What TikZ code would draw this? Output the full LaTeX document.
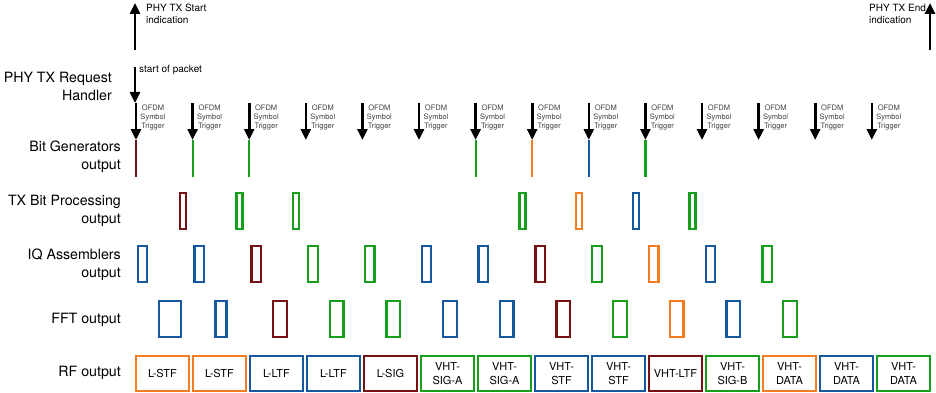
\documentclass[tikz,border=0pt]{standalone}
\usepackage{fontspec}
\setmainfont{TeX Gyre Heros}
\usetikzlibrary{positioning, arrows.meta}
\definecolor{sigorange}{RGB}{245,125,32}
\definecolor{siggreen}{RGB}{22,158,28}
\definecolor{sigblue}{RGB}{22,88,160}
\definecolor{sigred}{RGB}{118,18,22}

\begin{document}
\begin{tikzpicture}[x=1pt, y=-1pt,
  rowlabel/.style={anchor=east, align=right, inner sep=0pt, font=\fontsize{14.2}{18}\selectfont},
  trig/.style={-{Triangle[width=10pt,length=11pt]}, line width=2.6pt},
  triglabel/.style={anchor=north, align=center, inner sep=0pt, font=\fontsize{7.5}{9}\selectfont, text=black!75},
  note/.style={anchor=west, align=left, inner sep=0pt, font=\fontsize{10}{12}\selectfont},
  bitline/.style={line width=2.2pt},
  slot/.style={draw, line width=2.3pt, inner sep=0pt, minimum height=36pt},
  rfbox/.style={slot, minimum width=53pt, minimum height=35pt, align=center, font=\fontsize{11}{14.5}\selectfont}]

\useasboundingbox (0,0) rectangle (936,393);

% row labels
\node[rowlabel] (handler) at (112,86) {PHY TX Request\\Handler};
\node[rowlabel] (bitgen) at (121,157) {Bit Generators\\output};
\node[rowlabel] (txbit) at (121,211) {TX Bit Processing\\output};
\node[rowlabel] (iqasm) at (121,265) {IQ Assemblers\\output};
\node[rowlabel] (fft) at (121,320) {FFT output};
\node[rowlabel] (rf) at (121,373) {RF output};

% start and end of the transmission
\coordinate (starttail) at (135,50);
\coordinate (starthead) at (135,3);
\draw[trig] (starttail) -- (starthead);
\node[note] (startnote) at (146,14) {PHY TX Start\\indication};
\coordinate (endtail) at (930,50);
\coordinate (endhead) at (930,3);
\draw[trig] (endtail) -- (endhead);
\node[note] (endnote) at (869,14) {PHY TX End\\indication};

\coordinate (pkttail) at (135,67);
\coordinate (pkthead) at (135,103);
\draw[trig] (pkttail) -- (pkthead);
\node[note] (pktnote) at (139,70) {start of packet};

% symbol triggers
\foreach \i in {0,...,13} {
  \coordinate (trigtop\i) at (136+56.6*\i,103);
  \coordinate (trigbot\i) at (136+56.6*\i,140);
  \draw[trig] (trigtop\i) -- (trigbot\i);
  \node[triglabel] (trignote\i) at (153+56.6*\i,105) {OFDM\\Symbol\\Trigger};
}

% bit generators
\foreach \i/\c in {0/sigred,1/siggreen,2/siggreen,6/siggreen,7/sigorange,8/sigblue,9/siggreen} {
  \coordinate (bgtop\i) at (136+56.6*\i,140);
  \coordinate (bgbot\i) at (136+56.6*\i,177);
  \draw[bitline, \c] (bgtop\i) -- (bgbot\i);
}

% TX bit processing
\foreach \i/\c in {0/sigred,1/siggreen,2/siggreen,6/siggreen,7/sigorange,8/sigblue,9/siggreen}
  \node[slot, draw=\c, minimum width=6pt] (txb\i) at (183+56.6*\i,211) {};

% IQ assemblers
\foreach \i/\c in {0/sigblue,1/sigblue,2/sigred,3/siggreen,4/siggreen,5/sigblue,6/sigblue,7/sigred,8/siggreen,9/sigorange,10/sigblue,11/siggreen}
  \node[slot, draw=\c, minimum width=9.5pt] (iq\i) at (142.5+56.8*\i,264) {};

% FFT
\node[slot, draw=sigblue, minimum width=21.5pt] (fft0) at (170,319) {};
\node[slot, draw=sigblue, minimum width=11pt] (fft1) at (221,319) {};
\foreach \i/\c in {2/sigred,3/siggreen,4/siggreen,5/sigblue,6/sigblue,7/sigred,8/siggreen,9/sigorange,10/sigblue,11/siggreen}
  \node[slot, draw=\c, minimum width=13.7pt] (fft\i) at (280+56.67*\i-113.34,319) {};

% RF output
\foreach \i/\c/\t in {0/sigorange/L-STF, 1/sigorange/L-STF, 2/sigblue/L-LTF, 3/sigblue/L-LTF,
    4/sigred/L-SIG, 5/siggreen/{VHT-\\SIG-A}, 6/siggreen/{VHT-\\SIG-A}, 7/sigblue/{VHT-\\STF},
    8/sigblue/{VHT-\\STF}, 9/sigred/VHT-LTF, 10/siggreen/{VHT-\\SIG-B}, 11/sigorange/{VHT-\\DATA},
    12/sigblue/{VHT-\\DATA}, 13/siggreen/{VHT-\\DATA}}
  \node[rfbox, draw=\c] (rf\i) at (162.5+57*\i,373.5) {\t};
\end{tikzpicture}
\end{document}
